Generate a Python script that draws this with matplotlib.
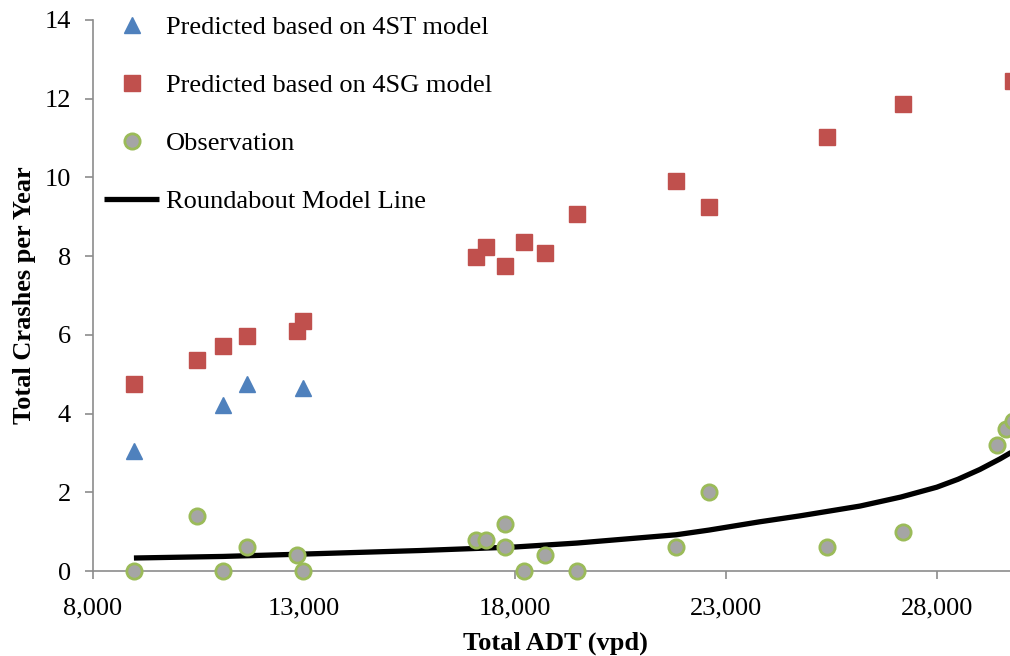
import matplotlib

matplotlib.use("Agg")
import matplotlib.pyplot as plt
from matplotlib.ticker import FuncFormatter

plt.rcParams["font.family"] = ["Liberation Serif", "DejaVu Serif"]

# predicted crashes, 4ST model
adt_4st = [8970, 11080, 11650, 12980]
crash_4st = [3.05, 4.22, 4.76, 4.66]

# predicted crashes, 4SG model
adt_4sg = [8970, 10460, 11080, 11650, 12830, 12980, 17080, 17310, 17760,
           18210, 18710, 19470, 21820, 22600, 25390, 27190, 29800]
crash_4sg = [4.76, 5.37, 5.72, 5.98, 6.11, 6.36, 7.99, 8.22, 7.74,
             8.35, 8.07, 9.08, 9.92, 9.24, 11.02, 11.86, 12.44]

# observed crashes per year
adt_obs = [8970, 10460, 11080, 11650, 12830, 12980, 17080, 17310, 17760, 17760,
           18210, 18710, 19470, 21820, 22600, 25390, 27190, 29420, 29650, 29800]
crash_obs = [0.0, 1.4, 0.0, 0.6, 0.4, 0.0, 0.8, 0.8, 1.2, 0.6,
             0.0, 0.4, 0.0, 0.6, 2.0, 0.6, 1.0, 3.2, 3.6, 3.8]

# roundabout model line
adt_line = [8970, 11080, 12980, 15750, 18000, 19470, 21820, 22600, 23800,
            24750, 26180, 27150, 28000, 28500, 29020, 29500, 29900]
crash_line = [0.33, 0.37, 0.43, 0.52, 0.61, 0.71, 0.92, 1.04, 1.25,
              1.40, 1.65, 1.88, 2.13, 2.33, 2.58, 2.85, 3.10]

W, H = 1010, 656
fig = plt.figure(figsize=(W / 100, H / 100), dpi=100)
# axes box in pixels: left 93, right ~1017 (cropped), top 20, bottom 571
ax = fig.add_axes([93 / W, (H - 571) / H, (1017 - 93) / W, (571 - 20) / H])

ax.plot(adt_4st, crash_4st, ls="none", marker="^", ms=12, color="#4F81BD",
        mec="#4F81BD", clip_on=False, label="Predicted based on 4ST model", zorder=3)
ax.plot(adt_4sg, crash_4sg, ls="none", marker="s", ms=11, color="#C0504D",
        mec="#C0504D", clip_on=False, label="Predicted based on 4SG model", zorder=3)
ax.plot(adt_obs, crash_obs, ls="none", marker="o", ms=11, color="#A5A5A5",
        mec="#9BBB59", mew=2, clip_on=False, label="Observation", zorder=4)
ax.plot(adt_line, crash_line, color="black", lw=3.8, solid_capstyle="butt",
        label="Roundabout Model Line", zorder=3)

ax.set_xlim(8000, 29900)
ax.set_ylim(0, 14)
ax.set_xticks([8000, 13000, 18000, 23000, 28000])
ax.set_yticks(range(0, 15, 2))
ax.xaxis.set_major_formatter(FuncFormatter(lambda v, p: f"{int(v):,}"))

for s in ("top", "right"):
    ax.spines[s].set_visible(False)
for s in ("left", "bottom"):
    ax.spines[s].set_color("#8C8C8C")
    ax.spines[s].set_linewidth(1.2)
ax.tick_params(axis="both", colors="#8C8C8C", labelcolor="black", labelsize=19,
               length=6, width=1.2, direction="out")
ax.tick_params(axis="x", pad=13)
ax.tick_params(axis="y", pad=10)

ax.set_xlabel("Total ADT (vpd)", fontsize=19, fontweight="bold", labelpad=9)
ax.set_ylabel("Total Crashes per Year", fontsize=19, fontweight="bold", labelpad=6)

ax.legend(loc="upper left", bbox_to_anchor=(104 / W, (H - 16) / H),
          bbox_transform=fig.transFigure, frameon=False, fontsize=19,
          handlelength=2.1, handletextpad=0.25, labelspacing=1.3,
          borderpad=0, borderaxespad=0, numpoints=1)

fig.savefig("out.png", dpi=100)
